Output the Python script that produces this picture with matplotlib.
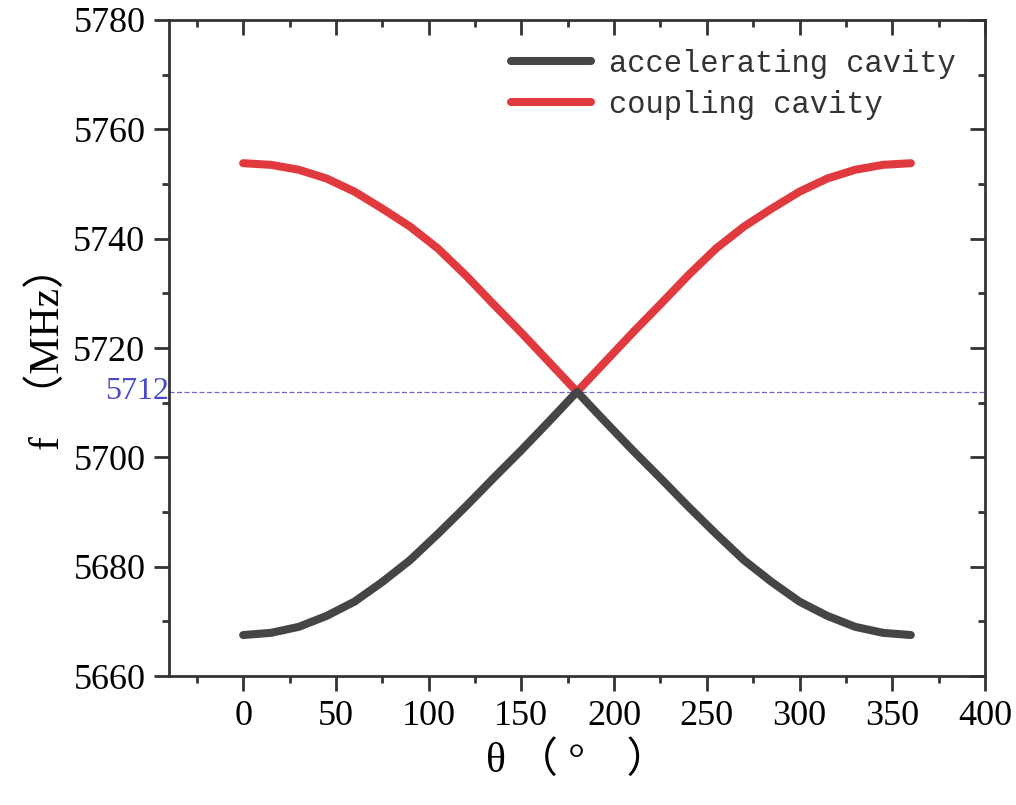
import matplotlib.pyplot as plt
from matplotlib.ticker import MultipleLocator

plt.rcParams['font.family'] = ['Liberation Serif', 'Noto Sans CJK SC', 'DejaVu Sans']

# phase advance (deg) and frequencies (MHz)
theta = [0, 15, 30, 45, 60, 75, 90, 105, 120, 135, 150, 165, 180,
         195, 210, 225, 240, 255, 270, 285, 300, 315, 330, 345, 360]
f_acc = [5667.5, 5667.9, 5669.0, 5671.0, 5673.6, 5677.2, 5681.2, 5686.0, 5691.0,
         5696.2, 5701.3, 5706.6, 5712.0, 5706.6, 5701.3, 5696.2, 5691.0, 5686.0,
         5681.2, 5677.2, 5673.6, 5671.0, 5669.0, 5667.9, 5667.5]
f_cpl = [5753.8, 5753.5, 5752.6, 5751.0, 5748.6, 5745.5, 5742.2, 5738.2, 5733.3,
         5728.0, 5722.8, 5717.4, 5712.0, 5717.4, 5722.8, 5728.0, 5733.3, 5738.2,
         5742.2, 5745.5, 5748.6, 5751.0, 5752.6, 5753.5, 5753.8]
f_pi = 5712

fig = plt.figure(figsize=(10.16, 8.05), dpi=100)
ax = fig.add_axes([0.1663, 0.1602, 0.8032, 0.815])

ax.axhline(f_pi, color='#6a6ad0', lw=0.9, ls=(0, (4, 2)), zorder=1)
ax.plot(theta, f_acc, color='#454545', lw=5.8, solid_capstyle='round',
        solid_joinstyle='round', label='accelerating cavity', zorder=3)
ax.plot(theta, f_cpl, color='#e0393e', lw=5.8, solid_capstyle='round',
        solid_joinstyle='round', label='coupling cavity', zorder=2)

ax.set_xlim(-40, 400)
ax.set_ylim(5660, 5780)
ax.xaxis.set_major_locator(MultipleLocator(50))
ax.xaxis.set_minor_locator(MultipleLocator(25))
ax.yaxis.set_major_locator(MultipleLocator(20))
ax.yaxis.set_minor_locator(MultipleLocator(10))
ax.set_xticks(range(0, 401, 50))

for s in ax.spines.values():
    s.set_linewidth(2)
    s.set_color('#333333')

ax.tick_params(which='both', direction='out', width=2, color='#333333',
               labelsize=26, pad=6)
ax.tick_params(which='major', length=11)
ax.tick_params(which='minor', length=5)
# mirrored ticks on top/right pointing inward
axt = ax.secondary_xaxis('top')
axt.xaxis.set_major_locator(MultipleLocator(50))
axt.xaxis.set_minor_locator(MultipleLocator(25))
axt.tick_params(which='both', direction='in', width=2, color='#333333',
                labeltop=False)
axt.tick_params(which='major', length=11)
axt.tick_params(which='minor', length=5)
axt.spines['top'].set_visible(False)
axr = ax.secondary_yaxis('right')
axr.yaxis.set_major_locator(MultipleLocator(20))
axr.yaxis.set_minor_locator(MultipleLocator(10))
axr.tick_params(which='both', direction='in', width=2, color='#333333',
                labelright=False)
axr.tick_params(which='major', length=11)
axr.tick_params(which='minor', length=5)
axr.spines['right'].set_visible(False)

ax.text(-40, f_pi, '5712', color='#4a4ac8', fontsize=23, ha='right',
        va='center', clip_on=False)

ax.set_xlabel('θ （ °\u3000）', fontsize=30, labelpad=6)
ax.set_ylabel('f\u2002（MHz）', fontsize=30, labelpad=4)

leg = ax.legend(loc='upper right', frameon=False,
                prop={'family': 'Liberation Mono', 'size': 22},
                handlelength=2.6, handletextpad=0.6, labelspacing=0.35,
                borderaxespad=0.55)
for t in leg.get_texts():
    t.set_color('#333333')

fig.savefig('out.png', dpi=100)
